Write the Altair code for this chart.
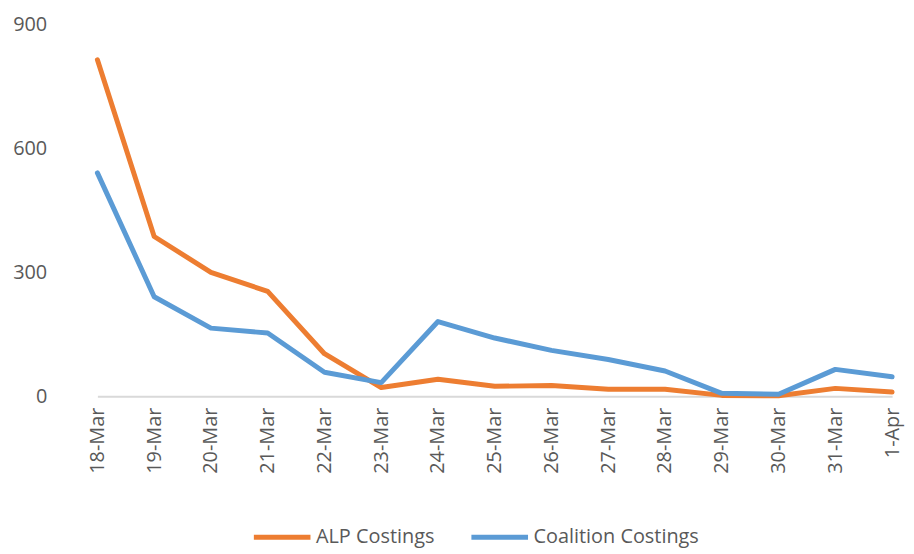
import altair as alt
import pandas as pd

dates = ["18-Mar", "19-Mar", "20-Mar", "21-Mar", "22-Mar", "23-Mar", "24-Mar",
         "25-Mar", "26-Mar", "27-Mar", "28-Mar", "29-Mar", "30-Mar", "31-Mar", "1-Apr"]
alp = [815, 387, 300, 254, 103, 21, 41, 24, 26, 17, 17, 2, 1, 19, 10]
coalition = [541, 241, 165, 153, 58, 33, 181, 141, 111, 89, 61, 7, 5, 65, 47]

series_names = ["ALP Costings", "Coalition Costings"]
series_colors = ["#ED7D31", "#5B9BD5"]

rows = []
for i, d in enumerate(dates):
    rows.append({"date": d, "series": series_names[0], "value": alp[i], "order": i})
    rows.append({"date": d, "series": series_names[1], "value": coalition[i], "order": i})
df = pd.DataFrame(rows)

FONT = "Open Sans"
GREY = "#595959"

chart = alt.Chart(df).mark_line(strokeWidth=5, strokeJoin="round", strokeCap="round").encode(
    x=alt.X("date:N", sort=dates,
            scale=alt.Scale(type="point", padding=0, range=[28, 828]),
            axis=alt.Axis(title=None, labelAngle=-90, labelFont=FONT, labelFontSize=20,
                          labelColor=GREY, ticks=False, domain=True, domainColor="#D9D9D9",
                          domainWidth=2, labelPadding=11, grid=False)),
    y=alt.Y("value:Q",
            scale=alt.Scale(domain=[0, 900], nice=False),
            axis=alt.Axis(title=None, values=[0, 300, 600, 900], labelFont=FONT, labelFontSize=20,
                          labelColor=GREY, ticks=False, domain=False, grid=False, labelPadding=23)),
    color=alt.Color("series:N",
                    scale=alt.Scale(domain=series_names, range=series_colors),
                    legend=alt.Legend(title=None, orient="none", legendX=183, legendY=485,
                                      direction="horizontal", symbolType="stroke",
                                      symbolSize=3249, symbolStrokeWidth=5,
                                      labelFont=FONT, labelFontSize=20, labelColor=GREY,
                                      labelOffset=3, columnPadding=26, labelLimit=0)),
    order="order:Q",
).properties(
    width=836, height=374,
    autosize=alt.AutoSizeParams(type="none"),
    padding={"left": 62, "top": 15, "right": 6, "bottom": 156},
).configure_view(stroke=None)

chart.save("out.html", embed_options={"renderer": "svg", "actions": False})
